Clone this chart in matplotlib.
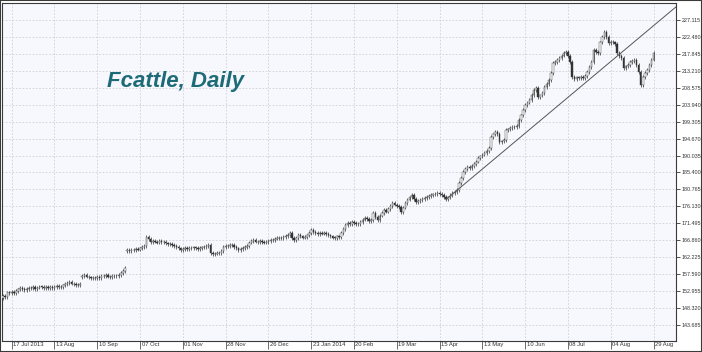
# Fcattle daily chart, Jul 2013 - Aug 2014
import numpy as np
import matplotlib
matplotlib.use('Agg')
from matplotlib import pyplot as plt
from matplotlib.patches import Rectangle
import matplotlib.transforms as mtransforms

# daily closes (305 bars)
closes = [
    151.6, 151.2, 152.6, 152.3, 152.8, 152.5, 153.0, 153.4, 153.8, 153.5,
    153.2, 153.6, 153.9, 153.7, 154.0, 153.6, 153.9, 154.2, 154.1, 153.8,
    154.0, 153.8, 154.1, 153.7, 154.0, 154.3, 154.1, 154.0, 154.5, 154.9,
    155.2, 155.4, 155.0, 154.8, 154.6, 154.7, 154.9, 157.0, 157.3, 156.9,
    156.7, 156.5, 156.4, 156.5, 156.8, 156.6, 157.0, 157.1, 157.3, 156.9,
    156.8, 157.0, 157.2, 157.0, 157.4, 157.9, 158.4, 159.2, 164.2, 164.0,
    164.3, 164.1, 164.4, 164.3, 164.6, 165.0, 165.3, 167.8, 167.2, 166.4,
    166.7, 166.5, 166.2, 166.6, 166.4, 166.3, 166.0, 165.9, 165.8, 165.6,
    165.3, 165.0, 164.6, 164.2, 164.4, 164.7, 164.5, 164.8, 164.6, 164.9,
    164.7, 164.5, 164.8, 164.9, 165.0, 165.2, 165.5, 163.4, 163.0, 163.2,
    163.5, 163.3, 164.0, 165.0, 165.4, 165.2, 165.6, 165.5, 165.0, 164.6,
    164.2, 164.4, 164.8, 165.0, 165.3, 166.2, 166.6, 166.9, 166.5, 166.3,
    166.6, 166.4, 166.2, 166.4, 166.7, 166.9, 167.0, 167.3, 167.5, 167.4,
    167.5, 167.8, 168.0, 168.3, 168.8, 167.5, 166.9, 167.4, 168.3, 167.9,
    167.6, 167.7, 168.2, 168.9, 169.6, 169.1, 168.8, 168.6, 168.9, 168.7,
    168.8, 168.5, 168.2, 167.9, 167.6, 167.5, 167.9, 167.7, 168.8, 170.0,
    171.0, 171.5, 171.2, 171.8, 171.5, 171.2, 171.3, 171.9, 172.5, 172.9,
    172.6, 172.2, 172.4, 174.3, 173.2, 172.4, 173.6, 174.3, 175.1, 174.7,
    175.4, 176.2, 177.0, 176.6, 176.2, 175.9, 174.6, 175.8, 177.0, 178.0,
    178.6, 179.2, 178.2, 177.3, 177.6, 177.9, 178.2, 178.4, 178.7, 179.0,
    179.2, 179.4, 179.6, 179.8, 179.5, 179.2, 178.7, 178.1, 178.6, 179.2,
    179.7, 180.1, 180.6, 182.5, 183.8, 185.5, 186.3, 186.9, 186.5, 187.2,
    187.7, 188.4, 189.3, 189.8, 190.3, 190.7, 191.2, 192.1, 195.1, 195.8,
    196.5, 195.9, 193.7, 193.9, 194.3, 197.0, 197.2, 197.6, 197.8, 197.9,
    198.1, 199.7, 201.0, 202.5, 203.9, 204.5, 205.2, 206.6, 208.0, 208.5,
    206.0, 206.5, 207.1, 208.8, 209.6, 210.7, 212.6, 215.3, 215.6, 216.1,
    216.7, 217.4, 218.1, 218.4, 217.2, 215.6, 211.5, 211.0, 211.4, 211.2,
    211.5, 211.2, 211.8, 212.9, 214.2, 215.6, 218.9, 218.3, 218.0, 221.0,
    222.4, 223.8, 222.5, 220.8, 221.2, 221.0, 220.6, 218.0, 217.3, 216.7,
    214.0, 214.4, 214.8, 215.6, 215.9, 216.2, 214.8, 212.9, 209.3, 211.5,
    212.6, 213.4, 214.8, 216.3, 218.0,
]
first_open = 151.0
gap_opens = {37: 156.8, 58: 163.9}   # bars that opened with a gap

date_labels = ['17 Jul 2013', '13 Aug', '10 Sep', '07 Oct', '01 Nov', '28 Nov',
               '26 Dec', '23 Jan 2014', '20 Feb', '19 Mar', '15 Apr', '13 May',
               '10 Jun', '08 Jul', '04 Aug', '29 Aug']
date_bars = [4, 24, 44, 64, 84, 104, 124, 144, 164, 184, 204, 224, 244, 264, 284, 304]

price_ticks = [227.115, 222.480, 217.845, 213.210, 208.575, 203.940, 199.305,
               194.670, 190.035, 185.400, 180.765, 176.130, 171.495, 166.860,
               162.225, 157.590, 152.955, 148.320, 143.685]

# trend line anchors (bar, price)
trend_bars = [207, 290]
trend_prices = [178.0, 218.7]

c = np.array(closes)
o = np.concatenate([[first_open], c[:-1]])
for k, v in gap_opens.items():
    o[k] = v
idx = np.arange(len(c))
hi = np.maximum(o, c) + 0.5
lo = np.minimum(o, c) - 0.5

W, H = 702, 352
fig = plt.figure(figsize=(W / 100, H / 100), dpi=100, facecolor='white')
ax = fig.add_axes([2 / W, 11 / H, 674 / W, 338 / H])
ax.set_facecolor('#f7f8fd')

ax.set_xlim(-0.5, 314.5)
ax.set_ylim(139.29, 231.77)

ax.grid(True, color='#cfd0d6', linestyle=(0, (2, 2)), linewidth=0.6)
ax.set_axisbelow(True)

# candles
ax.vlines(idx, lo, hi, color='#333333', linewidth=0.5, zorder=2)
up = c >= o
body = np.maximum(np.abs(c - o), 0.12)
ax.bar(idx[up], body[up], bottom=np.minimum(o, c)[up], width=0.7,
       color='white', edgecolor='#333333', linewidth=0.3, zorder=3)
ax.bar(idx[~up], body[~up], bottom=np.minimum(o, c)[~up], width=0.7,
       color='#333333', edgecolor='#333333', linewidth=0.3, zorder=3)

# trend line extended to the right edge
slope = (trend_prices[1] - trend_prices[0]) / (trend_bars[1] - trend_bars[0])
x_end = 314.5
ax.plot([trend_bars[0], x_end],
        [trend_prices[0], trend_prices[0] + slope * (x_end - trend_bars[0])],
        color='#555555', linewidth=0.7, zorder=4)

# axes styling
ax.yaxis.tick_right()
ax.set_yticks(price_ticks)
ax.set_yticklabels([f'{p:.3f}' for p in price_ticks])
ax.set_xticks(date_bars)
ax.set_xticklabels(date_labels, ha='left')
ax.tick_params(axis='y', direction='out', length=3, width=0.6, pad=1,
               labelsize=3.9, colors='#333333')
ax.tick_params(axis='x', direction='out', length=6, width=0.5, pad=-5,
               labelsize=4.2, colors='#333333')
offset = mtransforms.ScaledTranslation(1.5 / 100, 0, fig.dpi_scale_trans)
for lab in ax.get_xticklabels():
    lab.set_transform(lab.get_transform() + offset)
for lab in ax.get_xticklabels() + ax.get_yticklabels():
    lab.set_fontfamily(['Liberation Sans', 'DejaVu Sans'])
for s in ax.spines.values():
    s.set_color('#3a3a3a')
    s.set_linewidth(0.8)

ax.text(0.258, 0.767, 'Fcattle, Daily', transform=ax.transAxes,
        fontsize=16, fontweight='bold', fontstyle='italic', color='#1e6b78',
        family=['Liberation Sans', 'DejaVu Sans'], ha='center', va='center')

# outer frame
fig.patches.append(Rectangle((0, 0), 1, 1, transform=fig.transFigure,
                             fill=False, edgecolor='#3a3a3a', linewidth=1.5))

fig.savefig('out.png', dpi=100, facecolor='white')
